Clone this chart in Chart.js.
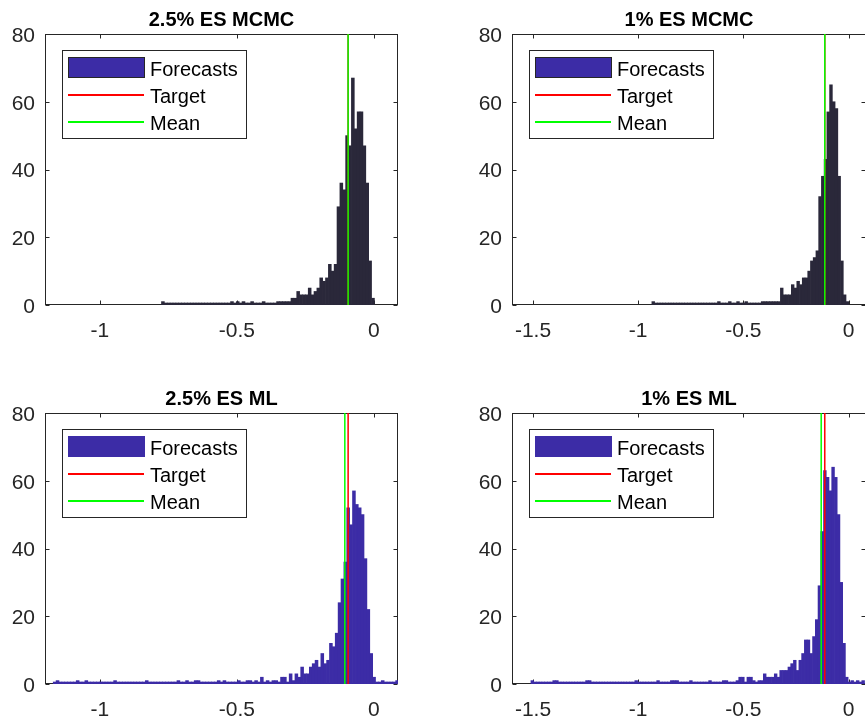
<!DOCTYPE html>
<html>
<head>
<meta charset="utf-8">
<script src="https://cdn.jsdelivr.net/npm/chart.js@4.4.1/dist/chart.umd.min.js"></script>
<style>
  html, body { margin: 0; padding: 0; background: #fff; overflow: hidden; }
  body { width: 865px; height: 719px; position: relative; }
  .panel { position: absolute; height: 350px; }
</style>
</head>
<body>
<div class="panel" style="left:0;top:0"><canvas id="mcmc25" width="443" height="350"></canvas></div>
<div class="panel" style="left:467px;top:0"><canvas id="mcmc1" width="444" height="350"></canvas></div>
<div class="panel" style="left:0;top:379px"><canvas id="ml25" width="443" height="350"></canvas></div>
<div class="panel" style="left:467px;top:379px"><canvas id="ml1" width="444" height="350"></canvas></div>
<script>
const FONT = "'Liberation Sans', Arial, Helvetica, sans-serif";
const INK = '#262626';

// histogram bins: first edge, bin width, counts per bin
const mcmc25Start = -0.775;
const mcmc25Width = 0.0105;
const mcmc25Counts = [
    1, 0, 0, 0, 0, 0, 0, 0, 0, 0,
    0, 0, 0, 0, 0, 0, 0, 0, 0, 0,
    0, 0, 0, 0, 1, 0, 1, 0, 1, 0,
    0, 1, 0, 0, 0, 1, 0, 0, 0, 0,
    1, 1, 1, 1, 1, 2, 2, 4, 3, 3,
    3, 5, 3, 4, 5, 8, 7, 8, 12, 10,
    12, 29, 36, 34, 50, 47, 67, 52, 57, 57,
    47, 36, 13, 2
];

const mcmc1Start = -0.935;
const mcmc1Width = 0.013;
const mcmc1Counts = [
    1, 0, 0, 0, 0, 0, 0, 0, 0, 0,
    0, 0, 0, 0, 0, 0, 0, 0, 0, 0,
    0, 0, 0, 0, 1, 0, 0, 0, 1, 0,
    0, 1, 0, 0, 1, 0, 0, 0, 0, 0,
    1, 1, 1, 1, 1, 1, 1, 5, 3, 3,
    3, 6, 5, 7, 6, 8, 8, 10, 13, 14,
    16, 32, 38, 43, 57, 65, 60, 58, 38, 13,
    3, 1
];

const ml25Start = -1.17;
const ml25Width = 0.0105;
const ml25Counts = [
    0, 1, 0, 0, 0, 0, 0, 0, 1, 0,
    0, 1, 0, 0, 0, 0, 0, 0, 0, 0,
    0, 1, 0, 0, 0, 0, 0, 0, 0, 0,
    0, 0, 1, 0, 0, 0, 0, 0, 0, 0,
    0, 0, 0, 1, 0, 0, 1, 0, 0, 1,
    1, 0, 0, 0, 0, 0, 0, 1, 0, 1,
    0, 0, 0, 0, 1, 0, 0, 1, 1, 0,
    1, 0, 2, 0, 1, 0, 1, 1, 0, 2,
    2, 0, 3, 1, 3, 2, 5, 3, 3, 5,
    6, 7, 5, 9, 6, 7, 12, 11, 15, 24,
    31, 36, 52, 47, 57, 53, 52, 50, 37, 22,
    9, 2, 0, 0, 1, 0, 0, 0, 0, 1
];

const ml1Start = -1.51;
const ml1Width = 0.013;
const ml1Counts = [
    1, 0, 0, 0, 0, 0, 0, 0, 1, 1,
    0, 0, 0, 0, 0, 0, 0, 0, 0, 0,
    1, 1, 0, 0, 0, 0, 0, 0, 0, 0,
    0, 0, 0, 0, 0, 0, 0, 0, 1, 0,
    0, 0, 0, 0, 0, 0, 1, 0, 0, 0,
    0, 1, 1, 1, 0, 0, 0, 0, 1, 0,
    0, 0, 0, 0, 0, 1, 0, 0, 0, 0,
    1, 1, 0, 0, 0, 1, 2, 2, 0, 2,
    2, 1, 0, 1, 1, 3, 2, 2, 2, 3,
    2, 4, 4, 4, 5, 6, 7, 4, 7, 9,
    13, 13, 9, 14, 19, 29, 45, 63, 61, 57,
    64, 61, 50, 30, 12, 2, 0, 1, 0, 1,
    0, 1
];

// vertical reference lines
const target25 = -0.094;
const target1 = -0.113;
const mcmc25Mean = -0.094;
const mcmc1Mean = -0.113;
const ml25Mean = -0.106;
const ml1Mean = -0.130;

// axes
const xLim25 = [-1.2, 0.088];
const xLim1 = [-1.6, 0.083];
const xTicks25 = [-1, -0.5, 0];
const xTicks1 = [-1.5, -1, -0.5, 0];
const yLim = [0, 80];
const yTicks = [0, 20, 40, 60, 80];

function bins(start, width, counts) {
    return counts.map((c, i) => ({ x: start + (i + 0.5) * width, y: c }));
}

function vline(v) {
    return [{ x: v, y: yLim[0] }, { x: v, y: yLim[1] }];
}

// box with inward tick marks on all four sides
const framePlugin = {
    id: 'frame',
    beforeDatasetsDraw(chart) {
        const { ctx, chartArea: a, scales } = chart;
        const l = Math.round(a.left) + 0.5, r = Math.round(a.right) - 0.5;
        const t = Math.round(a.top) + 0.5, b = Math.round(a.bottom) - 0.5;
        ctx.save();
        ctx.strokeStyle = INK;
        ctx.lineWidth = 1;
        ctx.strokeRect(l, t, r - l, b - t);
        ctx.beginPath();
        scales.x.ticks.forEach(tk => {
            const px = Math.round(scales.x.getPixelForValue(tk.value)) + 0.5;
            ctx.moveTo(px, b); ctx.lineTo(px, b - 4);
            ctx.moveTo(px, t); ctx.lineTo(px, t + 4);
        });
        scales.y.ticks.forEach(tk => {
            const py = Math.round(scales.y.getPixelForValue(tk.value)) + 0.5;
            ctx.moveTo(l, py); ctx.lineTo(l + 4, py);
            ctx.moveTo(r, py); ctx.lineTo(r - 4, py);
        });
        ctx.stroke();
        ctx.restore();
    }
};

// matlab style boxed legend, top left inside the axes
const boxLegend = {
    id: 'boxLegend',
    afterDraw(chart, args, opts) {
        const { ctx, chartArea: a } = chart;
        const x0 = Math.round(a.left) + 17, y0 = Math.round(a.top) + 16;
        ctx.save();
        ctx.fillStyle = '#fff';
        ctx.fillRect(x0, y0, 184, 88);
        ctx.strokeStyle = INK;
        ctx.lineWidth = 1;
        ctx.strokeRect(x0 + 0.5, y0 + 0.5, 184, 88);
        ctx.font = '20px ' + FONT;
        ctx.textBaseline = 'middle';
        chart.data.datasets.forEach((ds, i) => {
            const cy = y0 + 20 + i * 27;
            if (ds.type === 'line') {
                ctx.fillStyle = ds.borderColor;
                ctx.fillRect(x0 + 6, cy - 3, 76, 2);
            } else {
                ctx.fillStyle = opts.patchColor;
                ctx.fillRect(x0 + 6, y0 + 7, 76, 20);
                ctx.strokeStyle = opts.patchEdge;
                ctx.lineWidth = 1;
                ctx.strokeRect(x0 + 6.5, y0 + 7.5, 76, 20);
            }
            ctx.fillStyle = '#000';
            ctx.fillText(ds.label, x0 + 88, cy);
        });
        ctx.restore();
    }
};

function histChart(id, o) {
    return new Chart(document.getElementById(id), {
        type: 'bar',
        data: {
            datasets: [{
                type: 'bar',
                label: 'Forecasts',
                data: bins(o.start, o.width, o.counts),
                backgroundColor: o.barColor,
                borderWidth: 0,
                barPercentage: 1,
                categoryPercentage: 1,
                minBarLength: 2,
                order: 3
            }, {
                type: 'line',
                label: 'Target',
                data: vline(o.target),
                borderColor: '#ff0000',
                borderWidth: 1.5,
                pointRadius: 0,
                order: 2
            }, {
                type: 'line',
                label: 'Mean',
                data: vline(o.mean),
                borderColor: '#00ff00',
                borderWidth: 1.5,
                pointRadius: 0,
                order: 1
            }]
        },
        options: {
            responsive: false,
            animation: false,
            plugins: {
                legend: { display: false },
                tooltip: { enabled: false },
                title: {
                    display: true,
                    text: o.title,
                    color: '#000',
                    font: { family: FONT, size: 20, weight: 'bold', lineHeight: 1 },
                    padding: { top: 10, bottom: 4 }
                },
                boxLegend: { patchColor: o.patchColor, patchEdge: o.patchEdge }
            },
            scales: {
                x: {
                    type: 'linear',
                    min: o.xLim[0],
                    max: o.xLim[1],
                    offset: false,
                    grid: { display: false, drawTicks: false, tickLength: 0 },
                    border: { display: false },
                    afterBuildTicks: s => { s.ticks = o.xTicks.map(v => ({ value: v })); },
                    afterFit: s => { s.height = 45; },
                    ticks: {
                        color: INK,
                        font: { family: FONT, size: 21 },
                        padding: 14,
                        maxRotation: 0,
                        autoSkip: false,
                        callback: v => String(v)
                    }
                },
                y: {
                    min: yLim[0],
                    max: yLim[1],
                    grid: { display: false, drawTicks: false, tickLength: 0 },
                    border: { display: false },
                    afterBuildTicks: s => { s.ticks = yTicks.map(v => ({ value: v })); },
                    afterFit: s => { s.width = 45; },
                    ticks: {
                        color: INK,
                        font: { family: FONT, size: 21 },
                        padding: 10,
                        labelOffset: 2,
                        callback: v => String(v)
                    }
                },
                // empty right axis so the title centres over the plot box
                yRight: {
                    position: 'right',
                    min: yLim[0],
                    max: yLim[1],
                    grid: { display: false, drawTicks: false },
                    border: { display: false },
                    ticks: { display: false },
                    afterFit: s => { s.width = 45; }
                }
            }
        },
        plugins: [framePlugin, boxLegend]
    });
}

const MCMC_BAR = 'rgb(42, 40, 58)';
const ML_BAR = 'rgb(60, 44, 166)';

histChart('mcmc25', {
    title: '2.5% ES MCMC', start: mcmc25Start, width: mcmc25Width, counts: mcmc25Counts,
    target: target25, mean: mcmc25Mean, xLim: xLim25, xTicks: xTicks25,
    barColor: MCMC_BAR, patchColor: ML_BAR, patchEdge: INK
});
histChart('mcmc1', {
    title: '1% ES MCMC', start: mcmc1Start, width: mcmc1Width, counts: mcmc1Counts,
    target: target1, mean: mcmc1Mean, xLim: xLim1, xTicks: xTicks1,
    barColor: MCMC_BAR, patchColor: ML_BAR, patchEdge: INK
});
histChart('ml25', {
    title: '2.5% ES ML', start: ml25Start, width: ml25Width, counts: ml25Counts,
    target: target25, mean: ml25Mean, xLim: xLim25, xTicks: xTicks25,
    barColor: ML_BAR, patchColor: ML_BAR, patchEdge: ML_BAR
});
histChart('ml1', {
    title: '1% ES ML', start: ml1Start, width: ml1Width, counts: ml1Counts,
    target: target1, mean: ml1Mean, xLim: xLim1, xTicks: xTicks1,
    barColor: ML_BAR, patchColor: ML_BAR, patchEdge: ML_BAR
});
</script>
</body>
</html>
